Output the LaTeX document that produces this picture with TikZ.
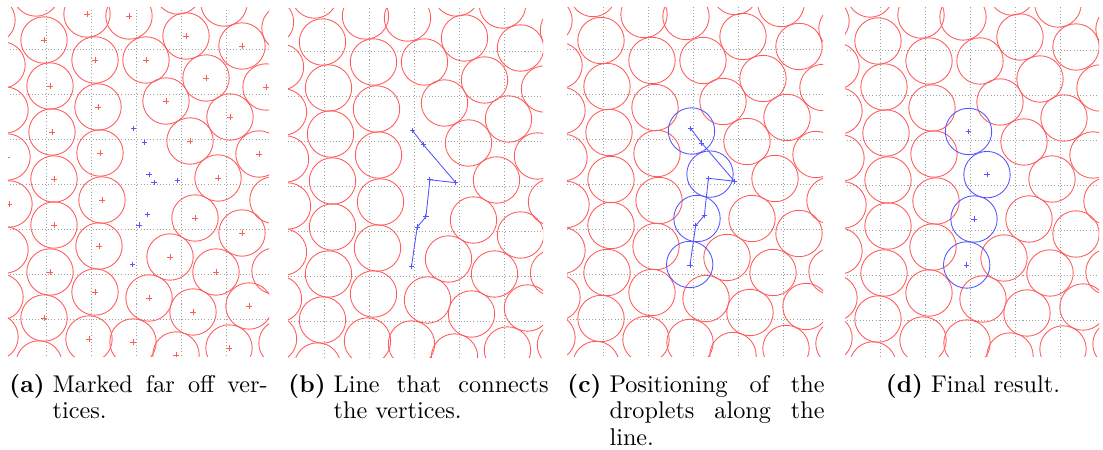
\documentclass[tikz,border=0pt]{standalone}
\usepackage{tikz}
\definecolor{DropRed}{HTML}{FF5C5C}
\definecolor{LineBlue}{HTML}{5555FF}
\definecolor{GridGray}{HTML}{A0A0A0}
\hbadness=10000

% droplet centres of the field (pixels of one panel)
\newcommand{\dropcenters}{%
  -8/20, 36/-7, 87/14, 129/16, 178/-9, 224/3, 285/28,
  44/40, 186/36, 242/46, 95/60, 146/60, 206/78, 266/87,
  2/65, 50/86, 98/107, 166/101, 230/117,
  5/110, 52/132, 190/141, 100/153, 259/154,
  7/157, 54/179, 218/178, 9/204, 102/200, 273/200,
  195/218, 54/225, 242/233, 5/250, 99/246, 170/257,
  50/272, 216/272, 275/271, 0/297, 95/292, 149/298, 193/312, 249/306,
  44/318, -5/337, 89/339, 133/342, 176/355, 229/348, 282/343, 39/364}
% far off vertices
\newcommand{\farverts}{133.7/128.3, 144.3/142.3, 149/174.3, 154/182.3,
  177.7/180.3, 147.7/214.3, 139/225, 132.7/264.3}
% vertices of the connecting line
\newcommand{\lineverts}{133.7/128.2, 144.7/142.5, 177.3/180.7, 151.4/177.8,
  147.4/214.8, 138.7/225.1, 133/264.5}
% new droplets along the line
\newcommand{\newdrops}{134.5/130.5, 153/173.6, 140/218, 132.7/264}

\newcommand{\dropfield}{%
  \foreach \gx in {46,91,...,226} {\draw[gridline] (\gx,0) -- (\gx,365);}
  \foreach \gy in {49,94,...,319} {\draw[gridline] (0,\gy) -- (285,\gy);}
  \foreach \cx/\cy in \dropcenters {\draw[drop] (\cx,\cy) circle[radius=23.2];}}

\tikzset{
  gridline/.style={draw=GridGray,line width=0.4pt,dash pattern=on 0.42pt off 0.9pt},
  drop/.style={draw=DropRed,line width=0.36pt},
  bluedrop/.style={draw=LineBlue,line width=0.36pt},
  pathline/.style={draw=LineBlue,line width=0.36pt},
  vtx/.pic={\draw[line width=0.36pt] (-2.6,0) -- (2.6,0) (0,-2.6) -- (0,2.6);},
  capnode/.style={inner sep=0pt,font=\fontsize{10}{11.03}\selectfont}
}

\begin{document}
\begin{tikzpicture}[x=0.4132pt,y=-0.4132pt]
  \useasboundingbox (0,0) rectangle (1103,450);

  % (a) marked vertices
  \begin{scope}
    \clip (8,8) rectangle (269,357);
    \dropfield
    \foreach \cx/\cy in \dropcenters {\pic[DropRed] at (\cx,\cy) {vtx};}
    \foreach \px/\py in \farverts {\pic[LineBlue] at (\px,\py) {vtx};}
  \end{scope}

  % (b) connecting line
  \begin{scope}[shift={(278.5,2)}]
    \clip (9.5,7) rectangle (264.5,356);
    \dropfield
    \foreach \px/\py [count=\i] in \lineverts {\coordinate (b\i) at (\px,\py);}
    \draw[pathline] (b1) \foreach \i in {2,...,7} {-- (b\i)};
    \foreach \i in {1,...,7} {\pic[LineBlue] at (b\i) {vtx};}
  \end{scope}

  % (c) droplets along the line
  \begin{scope}[shift={(557,0.5)}]
    \clip (10,7.5) rectangle (266,356.5);
    \dropfield
    \foreach \px/\py [count=\i] in \lineverts {\coordinate (c\i) at (\px,\py);}
    \draw[pathline] (c1) \foreach \i in {2,...,7} {-- (c\i)};
    \foreach \i in {1,...,7} {\pic[LineBlue] at (c\i) {vtx};}
    \foreach \px/\py in \newdrops {\draw[bluedrop] (\px,\py) circle[radius=23.2];}
  \end{scope}

  % (d) result
  \begin{scope}[shift={(834,1)}]
    \clip (11,7) rectangle (265,356);
    \dropfield
    \foreach \px/\py in \newdrops {
      \draw[bluedrop] (\px,\py) circle[radius=23.2];
      \pic[LineBlue] at (\px,\py) {vtx};}
  \end{scope}

  % captions
  \node[capnode,anchor=base west] (capa) at (9,392)
    {\textbf{(a)}~\parbox[t]{88.85pt}{Marked far off ver-\linebreak tices.}};
  \node[capnode,anchor=base west] (capb) at (288,392)
    {\textbf{(b)}~\parbox[t]{88.85pt}{Line that connects\linebreak the vertices.}};
  \node[capnode,anchor=base west] (capc) at (567,392)
    {\textbf{(c)}~\parbox[t]{88.85pt}{Positioning of the\linebreak droplets along the\linebreak line.}};
  \node[capnode,anchor=base] (capd) at (973,392)
    {\textbf{(d)}~Final result.};
\end{tikzpicture}
\end{document}
